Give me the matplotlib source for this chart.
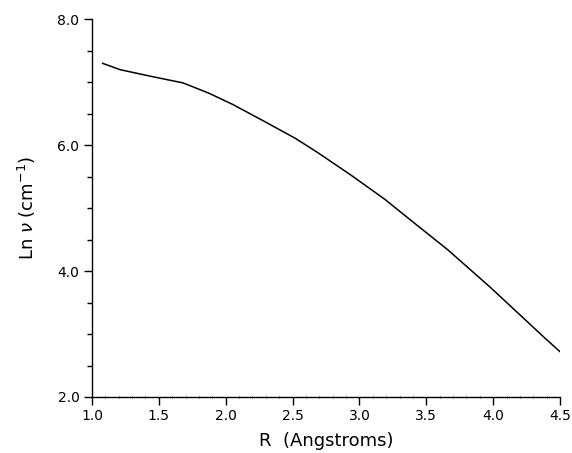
import matplotlib
matplotlib.use("Agg")
import matplotlib.pyplot as plt
from matplotlib.ticker import MultipleLocator, FormatStrFormatter

# Data
r_angstrom = [1.08, 1.21, 1.45, 1.68, 1.87, 2.05, 2.27, 2.52, 2.69, 2.94,
              3.19, 3.43, 3.66, 3.98, 4.39, 4.50]
ln_nu = [7.30, 7.20, 7.09, 6.99, 6.83, 6.65, 6.40, 6.11, 5.88, 5.52,
         5.14, 4.73, 4.34, 3.74, 2.93, 2.72]

x_ticks = [1.0, 1.5, 2.0, 2.5, 3.0, 3.5, 4.0, 4.5]
y_ticks = [2.0, 4.0, 6.0, 8.0]

plt.rcParams['font.family'] = ['DejaVu Sans']

fig = plt.figure(figsize=(5.72, 4.53), dpi=100)
ax = fig.add_axes([92 / 572, 1 - 397 / 453, (560 - 92) / 572, (397 - 19.3) / 453])

ax.plot(r_angstrom, ln_nu, color='black', lw=1.1)

ax.set_xlim(1.0, 4.5)
ax.set_ylim(2.0, 8.0)
ax.set_xticks(x_ticks)
ax.set_yticks(y_ticks)
ax.xaxis.set_major_formatter(FormatStrFormatter('%.1f'))
ax.yaxis.set_major_formatter(FormatStrFormatter('%.1f'))
ax.xaxis.set_minor_locator(MultipleLocator(0.1))
ax.yaxis.set_minor_locator(MultipleLocator(0.5))

for s in ['top', 'right']:
    ax.spines[s].set_visible(False)
for s in ['left', 'bottom']:
    ax.spines[s].set_linewidth(1.0)

ax.tick_params(axis='both', which='major', direction='out', length=6, width=1.0,
               labelsize=10, pad=3)
ax.tick_params(axis='x', which='minor', direction='inout', length=2, width=0.6)
ax.tick_params(axis='y', which='minor', direction='out', length=3.5, width=1.0)

ax.set_xlabel('R  (Angstroms)', fontsize=13, labelpad=6)
ax.set_ylabel(r'Ln $\nu$ (cm$^{-1}$)', fontsize=13, labelpad=14)

fig.savefig('out.png', dpi=100)
